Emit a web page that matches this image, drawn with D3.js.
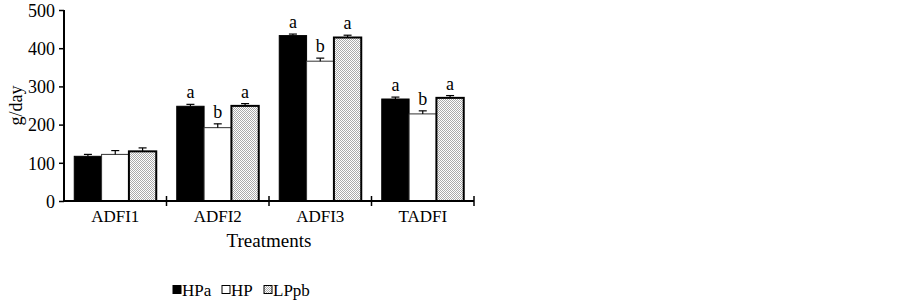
<!DOCTYPE html>
<html>
<head>
<meta charset="utf-8">
<script src="https://cdn.jsdelivr.net/npm/d3@7"></script>
<style>
  body { margin: 0; background: #fff; }
  text { font-family: "Liberation Serif", "Times New Roman", serif; fill: #000; }
</style>
</head>
<body>
<svg id="chart"></svg>
<script>
const categories = ['ADFI1', 'ADFI2', 'ADFI3', 'TADFI'];
const seriesNames = ['HPa', 'HP', 'LPpb'];
const hpa = [117, 248, 433, 267];
const hp = [122, 192, 366, 228];
const lppb = [130, 249, 428, 270];
const hpaErr = [5, 5, 4, 5];
const hpErr = [10, 10, 8, 8];
const lppbErr = [9, 6, 6, 6];
const hpaLetters = ['', 'a', 'a', 'a'];
const hpLetters = ['', 'b', 'b', 'b'];
const lppbLetters = ['', 'a', 'a', 'a'];
const yTicks = [0, 100, 200, 300, 400, 500];

const seriesData = [
  { name: 'HPa', values: hpa, errs: hpaErr, letters: hpaLetters },
  { name: 'HP', values: hp, errs: hpErr, letters: hpLetters },
  { name: 'LPpb', values: lppb, errs: lppbErr, letters: lppbLetters }
];

const W = 903, H = 303;
const margin = { left: 64, top: 10 };
const plotW = 410, plotH = 191;

const svg = d3.select('#chart').attr('width', W).attr('height', H);

// dotted fill pattern
const defs = svg.append('defs');
const pat = defs.append('pattern')
  .attr('id', 'dots')
  .attr('width', 2).attr('height', 2)
  .attr('patternUnits', 'userSpaceOnUse');
pat.append('rect').attr('width', 2).attr('height', 2).attr('fill', '#fff');
pat.append('rect').attr('width', 1).attr('height', 1).attr('fill', '#aaa');
pat.append('rect').attr('x', 1).attr('y', 1).attr('width', 1).attr('height', 1).attr('fill', '#aaa');

const fills = { HPa: '#000', HP: '#fff', LPpb: 'url(#dots)' };

const g = svg.append('g').attr('transform', `translate(${margin.left},${margin.top})`);

const x0 = d3.scaleBand().domain(categories).range([0, plotW]).paddingInner(0.2).paddingOuter(0.1);
const x1 = d3.scaleBand().domain(seriesNames).range([0, x0.bandwidth()]);
const y = d3.scaleLinear().domain([0, 500]).range([plotH, 0]);

// bars
seriesData.forEach(s => {
  const sg = g.append('g');
  sg.selectAll('rect')
    .data(categories)
    .join('rect')
    .attr('x', (c) => x0(c) + x1(s.name))
    .attr('y', (c, i) => y(s.values[i]))
    .attr('width', x1.bandwidth())
    .attr('height', (c, i) => plotH - y(s.values[i]))
    .attr('fill', fills[s.name])
    .attr('stroke', s.name === 'HP' ? '#333' : '#000')
    .attr('stroke-width', s.name === 'LPpb' ? 2 : 1);

  // error bars
  const eg = sg.selectAll('g.err')
    .data(categories)
    .join('g')
    .attr('class', 'err');
  eg.append('line')
    .attr('x1', c => x0(c) + x1(s.name) + x1.bandwidth() / 2)
    .attr('x2', c => x0(c) + x1(s.name) + x1.bandwidth() / 2)
    .attr('y1', (c, i) => y(s.values[i]))
    .attr('y2', (c, i) => y(s.values[i] + s.errs[i]))
    .attr('stroke', '#000').attr('stroke-width', 1.2);
  eg.append('line')
    .attr('x1', c => x0(c) + x1(s.name) + x1.bandwidth() / 2 - 4)
    .attr('x2', c => x0(c) + x1(s.name) + x1.bandwidth() / 2 + 4)
    .attr('y1', (c, i) => y(s.values[i] + s.errs[i]))
    .attr('y2', (c, i) => y(s.values[i] + s.errs[i]))
    .attr('stroke', '#000').attr('stroke-width', 1.2);

  // significance letters
  sg.selectAll('text.letter')
    .data(categories)
    .join('text')
    .attr('class', 'letter')
    .attr('x', c => x0(c) + x1(s.name) + x1.bandwidth() / 2)
    .attr('y', (c, i) => y(s.values[i] + s.errs[i]) - 6)
    .attr('text-anchor', 'middle')
    .style('font-size', '18px')
    .text((c, i) => s.letters[i]);
});

// y axis
const yAxis = g.append('g')
  .call(d3.axisLeft(y).tickValues(yTicks).tickSize(5).tickPadding(4));
yAxis.attr('font-family', null).attr('font-size', null);
yAxis.select('.domain').attr('stroke-width', 2).attr('d', `M0,0V${plotH}`);
yAxis.selectAll('line').attr('stroke-width', 1.5);
yAxis.selectAll('text')
  .attr('dy', '0.35em')
  .style('font-size', '18px');

// x axis
const xAxis = g.append('g').attr('transform', `translate(0,${plotH})`);
xAxis.append('line').attr('x1', 0).attr('x2', plotW).attr('stroke', '#000').attr('stroke-width', 2);
const boundaries = categories.map((c, i) => i === 0 ? 0 : x0(c) - x0.step() * x0.paddingInner() / 2);
boundaries.push(plotW);
xAxis.selectAll('line.tick')
  .data(boundaries.slice(1))
  .join('line')
  .attr('class', 'tick')
  .attr('x1', d => d).attr('x2', d => d)
  .attr('y1', -5).attr('y2', 5)
  .attr('stroke', '#000').attr('stroke-width', 1.5);
xAxis.selectAll('text')
  .data(categories)
  .join('text')
  .attr('x', c => x0(c) + x0.bandwidth() / 2)
  .attr('y', 21)
  .attr('text-anchor', 'middle')
  .style('font-size', '17px')
  .text(c => c);

// axis titles
svg.append('text')
  .attr('transform', `translate(22,${margin.top + plotH / 2}) rotate(-90)`)
  .attr('text-anchor', 'middle')
  .style('font-size', '18px')
  .text('g/day');

svg.append('text')
  .attr('x', margin.left + plotW / 2)
  .attr('y', 247)
  .attr('text-anchor', 'middle')
  .style('font-size', '19px')
  .text('Treatments');

// legend
const legendX = [173, 222, 264];
const legend = svg.append('g').attr('transform', 'translate(0,284)');
seriesNames.forEach((name, i) => {
  legend.append('rect')
    .attr('x', legendX[i]).attr('y', 1.5)
    .attr('width', 8).attr('height', 8)
    .attr('fill', fills[name])
    .attr('stroke', '#000').attr('stroke-width', 1);
  legend.append('text')
    .attr('x', legendX[i] + 9).attr('y', 12)
    .style('font-size', '17px')
    .text(name);
});
</script>
</body>
</html>
